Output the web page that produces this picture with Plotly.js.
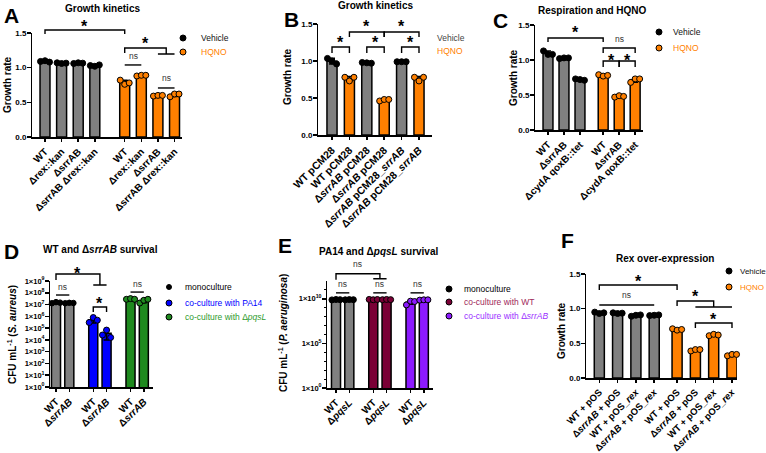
<!DOCTYPE html>
<html>
<head>
<meta charset="utf-8">
<script src="https://cdn.plot.ly/plotly-3.0.1.min.js"></script>
<style>
  html, body { margin: 0; padding: 0; background: #fff; }
  #chart { width: 766px; height: 453px; }
</style>
</head>
<body>
<div id="chart"></div>
<script>
// ---------------- data ----------------
// A: growth kinetics of rex / srrAB mutants
const aLabels = ['WT', 'Δrex::kan', 'ΔsrrAB', 'ΔsrrAB Δrex::kan', 'WT', 'Δrex::kan', 'ΔsrrAB', 'ΔsrrAB Δrex::kan'];
const aVehicle = [1.09, 1.065, 1.065, 1.03];
const aVehicleErr = [0.01, 0.006, 0.006, 0.01];
const aVehiclePts = [[1.09, 1.10, 1.08], [1.07, 1.06, 1.065], [1.06, 1.07, 1.065], [1.03, 1.02, 1.04]];
const aHqno = [0.787, 0.887, 0.597, 0.607];
const aHqnoErr = [0.031, 0.006, 0.006, 0.023];
const aHqnoPts = [[0.82, 0.76, 0.78], [0.88, 0.89, 0.89], [0.59, 0.60, 0.60], [0.58, 0.62, 0.62]];

// B: complementation with pCM28
const bLabels = ['WT pCM28', 'WT pCM28', 'Δ<i>srrAB</i> pCM28', 'Δ<i>srrAB</i> pCM28',
                 'Δ<i>srrAB</i> pCM28_<i>srrAB</i>', 'Δ<i>srrAB</i> pCM28_<i>srrAB</i>'];
const bVehicle = [0.998, 0.975, 0.99];
const bVehicleErr = [0.038, 0.005, 0.003];
const bVehiclePts = [[1.035, 1.0, 0.96], [0.98, 0.975, 0.97], [0.99, 0.99, 0.99]];
const bHqno = [0.763, 0.473, 0.763];
const bHqnoErr = [0.029, 0.012, 0.029];
const bHqnoPts = [[0.78, 0.73, 0.78], [0.46, 0.48, 0.48], [0.78, 0.73, 0.78]];

// C: respiration and HQNO
const cLabels = ['WT', 'ΔsrrAB', 'ΔcydA qoxB::tet', 'WT', 'ΔsrrAB', 'ΔcydA qoxB::tet'];
const cVehicle = [1.097, 1.027, 0.72];
const cVehicleErr = [0.03, 0.006, 0.01];
const cVehiclePts = [[1.13, 1.08, 1.08], [1.02, 1.03, 1.03], [0.73, 0.72, 0.71]];
const cHqno = [0.78, 0.48, 0.713];
const cHqnoErr = [0.01, 0.01, 0.03];
const cHqnoPts = [[0.79, 0.77, 0.78], [0.47, 0.49, 0.48], [0.68, 0.73, 0.73]];

// D: S. aureus survival (CFU/mL)
const dLabels = ['WT', 'Δ<i>srrAB</i>', 'WT', 'Δ<i>srrAB</i>', 'WT', 'Δ<i>srrAB</i>'];
const dMono = [1.45e7, 1.35e7];
const dMonoErr = [1.5e6, 5e5];
const dMonoPts = [[1.3e7, 1.6e7, 1.45e7], [1.3e7, 1.4e7, 1.35e7]];
const dPA14 = [5.2e5, 3.7e4];
const dPA14Err = [2.5e5, 2.7e4];
const dPA14Pts = [[3.0e5, 7.9e5, 4.7e5], [2.6e4, 6.8e4, 1.6e4]];
const dPqsL = [2.9e7, 2.15e7];
const dPqsLErr = [2.3e6, 7.5e6];
const dPqsLPts = [[2.8e7, 3.2e7, 2.8e7], [1.35e7, 2.3e7, 2.8e7]];

// E: P. aeruginosa survival (CFU/mL)
const eLabels = ['WT', 'Δ<i>pqsL</i>', 'WT', 'Δ<i>pqsL</i>', 'WT', 'Δ<i>pqsL</i>'];
const eMono = [8.0e9, 8.0e9];
const eMonoErr = [4e8, 2e8];
const eMonoPts = [[7.6e9, 8.4e9, 8.0e9], [7.8e9, 8.2e9, 8.0e9]];
const eCoWT = [8.3e9, 8.2e9];
const eCoWTErr = [3e8, 2.5e8];
const eCoWTPts = [[8.6e9, 7.9e9, 8.4e9], [8.0e9, 8.5e9, 8.1e9]];
const eCoSrr = [4.2e9, 7.6e9];
const eCoSrrErr = [1.8e9, 3.5e8];
const eCoSrrPts = [[2.1e9, 5.5e9, 5.0e9], [7.2e9, 7.8e9, 7.8e9]];

// F: Rex over-expression
const fLabels = ['WT + pOS', 'Δ<i>srrAB</i> + pOS', 'WT + pOS_<i>rex</i>', 'Δ<i>srrAB</i> + pOS_<i>rex</i>',
                 'WT + pOS', 'Δ<i>srrAB</i> + pOS', 'WT + pOS_<i>rex</i>', 'Δ<i>srrAB</i> + pOS_<i>rex</i>'];
const fVehicle = [0.94, 0.935, 0.90, 0.905];
const fVehicleErr = [0.01, 0.005, 0.01, 0.005];
const fVehiclePts = [[0.95, 0.93, 0.94], [0.94, 0.93, 0.935], [0.89, 0.905, 0.91], [0.90, 0.905, 0.91]];
const fHqno = [0.70, 0.403, 0.62, 0.333];
const fHqnoErr = [0.01, 0.012, 0.01, 0.012];
const fHqnoPts = [[0.71, 0.69, 0.70], [0.39, 0.41, 0.41], [0.61, 0.63, 0.62], [0.32, 0.34, 0.34]];

// ---------------- styling & geometry ----------------
const W = 766, H = 453;
const FONT = '"Liberation Sans", Arial, Helvetica, sans-serif';
const GRAY = '#808080', ORANGE = '#ff8000', BLUE = '#0000ff', GREEN = '#1f8a1f',
      WINE = '#7a0036', VIOLET = '#8c1aff';
const fx = x => x / W;
const fy = y => 1 - y / H;

// plotting boxes in pixels [left, right, top, bottom]
const geom = {
  A: { n: '',  box: [32, 182, 33, 137],  xr: [-0.783, 8.25],  yr: [0, 1.5], group: 4, gap: 0.8,  bw: 0.6,  tick: 10 },
  B: { n: '2', box: [318, 432, 24, 135], xr: [-0.805, 5.747], yr: [0, 1.5], group: 6, gap: 0,    bw: 0.58, tick: 10.5 },
  C: { n: '3', box: [535, 643, 25, 130], xr: [-0.8125, 5.94], yr: [0, 1.5], group: 3, gap: 0.45, bw: 0.62, tick: 10 },
  D: { n: '4', box: [50, 153, 281, 387], xr: [-0.451, 7.29],  yr: [0, 9],   group: 2, gap: 0.8,  bw: 0.68, tick: 10, log: true },
  E: { n: '5', box: [327, 433, 281, 388],xr: [-0.677, 7.29],  yr: [0, 12],  group: 2, gap: 0.8,  bw: 0.68, tick: 10, log: true },
  F: { n: '6', box: [586, 737, 274, 378],xr: [-0.727, 7.524], yr: [0, 1.5], group: 4, gap: 0.25, bw: 0.55, tick: 9.5 }
};
const labels = { A: aLabels, B: bLabels, C: cLabels, D: dLabels, E: eLabels, F: fLabels };
const pos = (g, i) => (i % g.group) + Math.floor(i / g.group) * (g.group + g.gap);

const series = {
  A: [
    { name: 'Vehicle', idx: [0, 1, 2, 3], y: aVehicle, err: aVehicleErr, pts: aVehiclePts, fill: GRAY, dot: '#000', txt: '#111' },
    { name: 'HQNO', idx: [4, 5, 6, 7], y: aHqno, err: aHqnoErr, pts: aHqnoPts, fill: ORANGE, dot: ORANGE, txt: ORANGE }
  ],
  B: [
    { name: 'Vehicle', idx: [0, 2, 4], y: bVehicle, err: bVehicleErr, pts: bVehiclePts, fill: GRAY, dot: '#000', txt: '#444' },
    { name: 'HQNO', idx: [1, 3, 5], y: bHqno, err: bHqnoErr, pts: bHqnoPts, fill: ORANGE, dot: ORANGE, txt: ORANGE }
  ],
  C: [
    { name: 'Vehicle', idx: [0, 1, 2], y: cVehicle, err: cVehicleErr, pts: cVehiclePts, fill: GRAY, dot: '#000', txt: '#111' },
    { name: 'HQNO', idx: [3, 4, 5], y: cHqno, err: cHqnoErr, pts: cHqnoPts, fill: ORANGE, dot: ORANGE, txt: ORANGE }
  ],
  D: [
    { name: 'monoculture', idx: [0, 1], y: dMono, err: dMonoErr, pts: dMonoPts, fill: GRAY, dot: '#000', txt: '#000', small: true },
    { name: 'co-culture with PA14', idx: [2, 3], y: dPA14, err: dPA14Err, pts: dPA14Pts, fill: BLUE, dot: BLUE, txt: BLUE },
    { name: 'co-culture with Δ<i>pqsL</i>', idx: [4, 5], y: dPqsL, err: dPqsLErr, pts: dPqsLPts, fill: GREEN, dot: GREEN, txt: '#2e9b2e' }
  ],
  E: [
    { name: 'monoculture', idx: [0, 1], y: eMono, err: eMonoErr, pts: eMonoPts, fill: GRAY, dot: '#000', txt: '#000' },
    { name: 'co-culture with WT', idx: [2, 3], y: eCoWT, err: eCoWTErr, pts: eCoWTPts, fill: WINE, dot: WINE, txt: '#a0285a' },
    { name: 'co-culture with Δ<i>srrAB</i>', idx: [4, 5], y: eCoSrr, err: eCoSrrErr, pts: eCoSrrPts, fill: VIOLET, dot: VIOLET, txt: '#9b30ff' }
  ],
  F: [
    { name: 'Vehicle', idx: [0, 1, 2, 3], y: fVehicle, err: fVehicleErr, pts: fVehiclePts, fill: GRAY, dot: '#000', txt: '#111' },
    { name: 'HQNO', idx: [4, 5, 6, 7], y: fHqno, err: fHqnoErr, pts: fHqnoPts, fill: ORANGE, dot: ORANGE, txt: ORANGE }
  ]
};

// significance marks: level in axis units (log10 for log axes), drops in px
const sig = {
  A: [
    { t: 'bracket', a: 0, b: 4, y: 1.543, d: 4, label: '*' },
    { t: 'group', a: 4, b: [6, 7], y: 1.284, d: 5, d2: 6, label: '*', off: 8 },
    { t: 'line', a: 4, b: 5, y: 1.039, label: 'ns' },
    { t: 'line', a: 6, b: 7, y: 0.707, label: 'ns', off: 9 }
  ],
  B: [
    { t: 'bracket', a: 0, b: 1, y: 1.189, d: 6, label: '*', off: 8 },
    { t: 'bracket', a: 1, b: 3, y: 1.392, d: 5, label: '*', off: 9 },
    { t: 'bracket', a: 2, b: 3, y: 1.189, d: 6, label: '*', off: 8 },
    { t: 'bracket', a: 3, b: 5, y: 1.392, d: 5, label: '*', off: 9 },
    { t: 'bracket', a: 4, b: 5, y: 1.189, d: 6, label: '*', off: 8 }
  ],
  C: [
    { t: 'bracket', a: 0, b: 3, y: 1.314, d: 4, label: '*', off: 9 },
    { t: 'bracket', a: 3, b: 5, y: 1.171, d: 5, label: 'ns', off: 8 },
    { t: 'bracket', a: 3, b: 4, y: 0.986, d: 6, label: '*', off: 4.5 },
    { t: 'bracket', a: 4, b: 5, y: 0.986, d: 6, label: '*', off: 4.5 }
  ],
  D: [
    { t: 'group', a: 0, b: [2, 3], y: 9.59, d: 6, d2: 11, label: '*', off: 4.5 },
    { t: 'line', a: 0, b: 1, y: 7.81, label: 'ns', off: 7 },
    { t: 'bracket', a: 2, b: 3, y: 6.79, d: 5, label: '*', off: 7 },
    { t: 'line', a: 4, b: 5, y: 8.06, label: 'ns', off: 7 }
  ],
  E: [
    { t: 'group', a: 0, b: [2, 3], y: 12.81, d: 6, d2: 5, label: 'ns', off: 9 },
    { t: 'line', a: 0, b: 1, y: 10.67, label: 'ns', off: 8 },
    { t: 'line', a: 2, b: 3, y: 10.67, label: 'ns', off: 8 },
    { t: 'line', a: 4, b: 5, y: 10.67, label: 'ns', off: 8 }
  ],
  F: [
    { t: 'bracket', a: 0, b: 4, y: 1.341, d: 5, label: '*', off: 7 },
    { t: 'line', a: 0, b: 3, y: 1.053, label: 'ns', off: 9 },
    { t: 'group', a: 4, b: [5, 7], y: 1.111, d: 5, d2: 6, label: '*', off: 8 },
    { t: 'bracket', a: 5, b: 7, y: 0.793, d: 5, label: '*', off: 7 }
  ]
};

// panel titles, letters, axis titles and legends (positions in px)
const titles = [
  { text: 'Growth kinetics', x: 102, y: 9 },
  { text: 'Growth kinetics', x: 375, y: 5 },
  { text: 'Respiration and HQNO', x: 592, y: 10 },
  { text: 'WT and Δ<i>srrAB</i> survival', x: 100, y: 249 },
  { text: 'PA14 and Δ<i>pqsL</i> survival', x: 378, y: 252 },
  { text: 'Rex over-expression', x: 665, y: 258 }
];
const letters = [
  { text: 'A', x: 2, y: 15.5 }, { text: 'B', x: 282, y: 19.5 }, { text: 'C', x: 491, y: 20.5 },
  { text: 'D', x: 2, y: 252 }, { text: 'E', x: 276, y: 245.5 }, { text: 'F', x: 559, y: 240.5 }
];
const yTitles = [
  { text: 'Growth rate', x: 8, y: 85 },
  { text: 'Growth rate', x: 288, y: 77 },
  { text: 'Growth rate', x: 513, y: 78 },
  { text: 'CFU mL<sup>-1</sup> (<i>S. aureus</i>)', x: 12, y: 335 },
  { text: 'CFU mL<sup>-1</sup> (<i>P. aeruginosa</i>)', x: 283, y: 333 },
  { text: 'Growth rate', x: 561, y: 331 }
];
const legendPos = {
  A: { x: 183, y: [38, 52], tx: 199, size: 8.5 },
  B: { x: null, y: [38, 51], tx: 435, size: 8.5 },
  C: { x: 659, y: [32, 48], tx: 671, size: 8.5 },
  D: { x: 169, y: [287, 303, 317], tx: 183, size: 8.5 },
  E: { x: 449, y: [289, 302, 316], tx: 462, size: 8.5 },
  F: { x: 729, y: [271, 287], tx: 738, size: 8 }
};

// ---------------- build ----------------
const traces = [], shapes = [], annotations = [];
const layout = {
  width: W, height: H, margin: { l: 0, r: 0, t: 0, b: 0 },
  paper_bgcolor: '#fff', plot_bgcolor: 'rgba(0,0,0,0)',
  barmode: 'overlay', showlegend: false,
  font: { family: FONT, color: '#000' }
};

const axisStyle = {
  showline: true, linecolor: '#000', linewidth: 1.5, ticks: 'outside', ticklen: 3.5,
  tickwidth: 1.5, tickcolor: '#000', showgrid: false, zeroline: false, fixedrange: true
};

for (const key of Object.keys(geom)) {
  const g = geom[key];
  const lab = labels[key];
  const [L, R, T, B] = g.box;

  layout['xaxis' + g.n] = Object.assign({}, axisStyle, {
    domain: [fx(L), fx(R)], range: g.xr, anchor: 'y' + g.n,
    tickmode: 'array', tickvals: lab.map((_, i) => pos(g, i)), ticktext: lab, tickangle: -45,
    tickfont: { family: FONT, size: g.tick, color: '#000', weight: 'bold' }
  });

  const yax = Object.assign({}, axisStyle, {
    domain: [fy(B), fy(T)], range: g.yr, anchor: 'x' + g.n, ticklabelstandoff: -1,
    tickfont: { family: FONT, size: 8, color: '#000', weight: 'bold' }
  });
  if (g.log) {
    yax.type = 'log';
    const decades = [];
    for (let k = 0; k <= g.yr[1]; k++) decades.push(k);
    const major = key === 'D' ? decades : [0, 5, 10];
    yax.tickmode = 'array';
    yax.tickvals = major.map(k => Math.pow(10, k));
    yax.ticktext = major.map(k => '1×10<sup>' + k + '</sup>');
    yax.tickfont.size = 7.5;
    if (key === 'E') {
      yax.minor = { tickmode: 'array', tickvals: decades.filter(k => k % 5 && k < 12).map(k => Math.pow(10, k)),
                    ticks: 'outside', ticklen: 2, tickwidth: 1, tickcolor: '#000' };
    }
  } else {
    yax.tickmode = 'array';
    yax.tickvals = [0, 0.5, 1, 1.5];
    yax.ticktext = ['0.0', '0.5', '1.0', '1.5'];
  }
  layout['yaxis' + g.n] = yax;

  // bars, error bars and replicate points
  const jitter = [-0.27, 0, 0.27].map(o => o * g.bw / 0.6);
  for (const s of series[key]) {
    const xs = s.idx.map(i => pos(g, i));
    traces.push({
      type: 'bar', xaxis: 'x' + g.n, yaxis: 'y' + g.n, x: xs, y: s.y, width: g.bw,
      marker: { color: s.fill, line: { color: '#000', width: 1.5 } },
      error_y: { type: 'data', array: s.err, color: '#000', thickness: 1.5, width: 3 },
      hoverinfo: 'skip'
    });
    const px = [], py = [];
    s.pts.forEach((arr, k) => arr.forEach((v, j) => { px.push(xs[k] + jitter[j]); py.push(v); }));
    traces.push({
      type: 'scatter', mode: 'markers', xaxis: 'x' + g.n, yaxis: 'y' + g.n, x: px, y: py,
      cliponaxis: false, hoverinfo: 'skip',
      marker: { size: s.small ? 5.5 : 6, color: s.dot, line: { color: '#000', width: 1 } }
    });
  }

  // significance brackets
  const h = B - T;
  const xr = 'x' + g.n, yr = 'y' + g.n + ' domain';
  const yd = v => (v - g.yr[0]) / (g.yr[1] - g.yr[0]);
  for (const s of sig[key]) {
    const Y = yd(s.y);
    const xa = pos(g, s.a);
    let xb, path;
    if (s.t === 'group') {
      const b0 = pos(g, s.b[0]), b1 = pos(g, s.b[1]);
      xb = (b0 + b1) / 2;
      const y1 = Y - s.d / h, y2 = Y - s.d2 / h;
      path = `M${xa},${y1} L${xa},${Y} L${xb},${Y} L${xb},${y2} M${b0},${y2} L${b1},${y2}`;
    } else {
      xb = pos(g, s.b);
      if (s.t === 'bracket') {
        const y1 = Y - s.d / h;
        path = `M${xa},${y1} L${xa},${Y} L${xb},${Y} L${xb},${y1}`;
      } else {
        path = `M${xa},${Y} L${xb},${Y}`;
      }
    }
    shapes.push({ type: 'path', xref: xr, yref: yr, path, line: { color: '#000', width: 1.4 } });
    const star = s.label === '*';
    const off = s.off !== undefined ? s.off : (star ? 7.5 : 8.5);
    annotations.push({
      xref: xr, yref: yr, x: (xa + xb) / 2, y: Y, text: s.label, showarrow: false,
      xanchor: 'center', yanchor: 'middle', yshift: star ? off - 3.6 : off + 0.7,
      font: star ? { family: FONT, size: 16, color: '#000', weight: 'bold' }
                 : { family: FONT, size: 8.5, color: '#333' }
    });
  }

  // legend
  const lp = legendPos[key];
  series[key].forEach((s, k) => {
    const cy = lp.y[k];
    if (lp.x !== null) {
      const r = s.small ? 2.5 : 3;
      shapes.push({
        type: 'circle', xref: 'paper', yref: 'paper',
        x0: fx(lp.x - r), x1: fx(lp.x + r), y0: fy(cy + r), y1: fy(cy - r),
        fillcolor: s.dot, line: { color: '#000', width: 1 }
      });
    }
    annotations.push({
      xref: 'paper', yref: 'paper', x: fx(lp.tx), y: fy(cy), xanchor: 'left', yanchor: 'middle',
      text: s.name, showarrow: false, font: { family: FONT, size: lp.size, color: s.txt }
    });
  });
}

for (const t of titles) {
  annotations.push({ xref: 'paper', yref: 'paper', x: fx(t.x), y: fy(t.y), xanchor: 'center', yanchor: 'middle',
    text: t.text, showarrow: false, font: { family: FONT, size: 10, color: '#000', weight: 'bold' } });
}
for (const t of letters) {
  annotations.push({ xref: 'paper', yref: 'paper', x: fx(t.x), y: fy(t.y), xanchor: 'left', yanchor: 'middle',
    text: t.text, showarrow: false, font: { family: FONT, size: 21, color: '#000', weight: 'bold' } });
}
for (const t of yTitles) {
  annotations.push({ xref: 'paper', yref: 'paper', x: fx(t.x), y: fy(t.y), xanchor: 'center', yanchor: 'middle',
    textangle: -90, text: t.text, showarrow: false, font: { family: FONT, size: 10, color: '#000', weight: 'bold' } });
}

layout.shapes = shapes;
layout.annotations = annotations;

Plotly.newPlot('chart', traces, layout, { displayModeBar: false, staticPlot: true });
</script>
</body>
</html>
